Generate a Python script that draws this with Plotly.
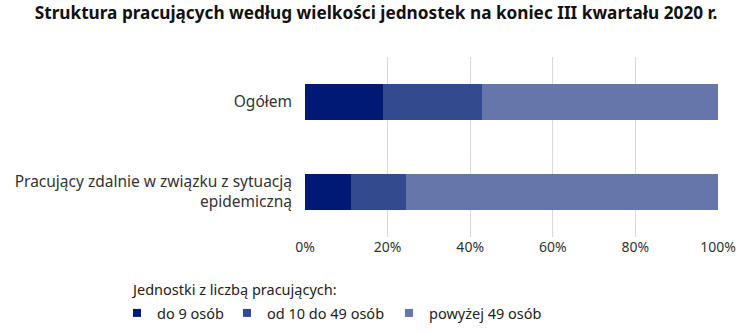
import plotly.graph_objects as go

categories = ["Ogółem", "Pracujący zdalnie w związku z sytuacją<br>epidemiczną"]
series_names = ["do 9 osób", "od 10 do 49 osób", "powyżej 49 osób"]
small = [18.9, 11.1]
medium = [24.0, 13.4]
large = [57.1, 75.5]
colors = ["#001a73", "#334a8f", "#6675aa"]
legend_title = "Jednostki z liczbą pracujących:"

FONT = "Noto Sans"

fig = go.Figure()
for name, vals, col in zip(series_names, [small, medium, large], colors):
    fig.add_trace(go.Bar(
        y=categories, x=vals, name=name, orientation="h",
        marker=dict(color=col, line=dict(width=0)),
        width=0.4, hoverinfo="x+name", showlegend=False,
    ))

# compact square swatches for the legend, with per-entry widths
entry_widths = [65, 117, 120]
for name, col, w in zip(series_names, colors, entry_widths):
    fig.add_trace(go.Scatter(
        x=[None], y=[None], mode="markers", name=name,
        marker=dict(symbol="square", size=8, color=col),
        legendwidth=w,
    ))

W, H = 752, 334
L, R, T, B = 305, 34, 57, 97
PW, PH = W - L - R, H - T - B

fig.update_layout(
    barmode="stack",
    width=W, height=H,
    margin=dict(l=L, r=R, t=T, b=B, autoexpand=False),
    paper_bgcolor="white", plot_bgcolor="white",
    font=dict(family=FONT, size=14, color="#222222"),
    title=dict(
        text="<b>Struktura pracujących według wielkości jednostek na koniec III kwartału 2020 r.</b>",
        x=0.5, xanchor="center", xref="container",
        y=1 - 12.5 / H, yanchor="middle", yref="container",
        font=dict(family=FONT, size=17.2, color="#111111"),
    ),
    xaxis=dict(
        range=[0, 100], dtick=20, ticksuffix="%",
        showgrid=True, gridcolor="#d9d9d9", gridwidth=1,
        zeroline=False, showline=False, ticks="",
        tickfont=dict(size=14, color="#333333"), fixedrange=True,
    ),
    yaxis=dict(
        autorange="reversed", showgrid=False, zeroline=False,
        ticks="", ticklabelstandoff=12,
        tickfont=dict(size=15.5, color="#333333"),
    ),
    legend=dict(
        orientation="h",
        xref="paper", yref="paper",
        x=-(L - 117) / PW, xanchor="left",
        y=-(313 - (T + PH)) / PH, yanchor="middle",
        font=dict(size=14.5, color="#222222"),
        itemwidth=30,
        traceorder="normal",
    ),
    annotations=[dict(
        text=legend_title, xref="paper", yref="paper",
        x=-(L - 129) / PW, xanchor="left",
        y=-(289 - (T + PH)) / PH, yanchor="middle",
        showarrow=False, font=dict(size=14.5, color="#222222"),
    )],
)

fig.write_html("out.html")
